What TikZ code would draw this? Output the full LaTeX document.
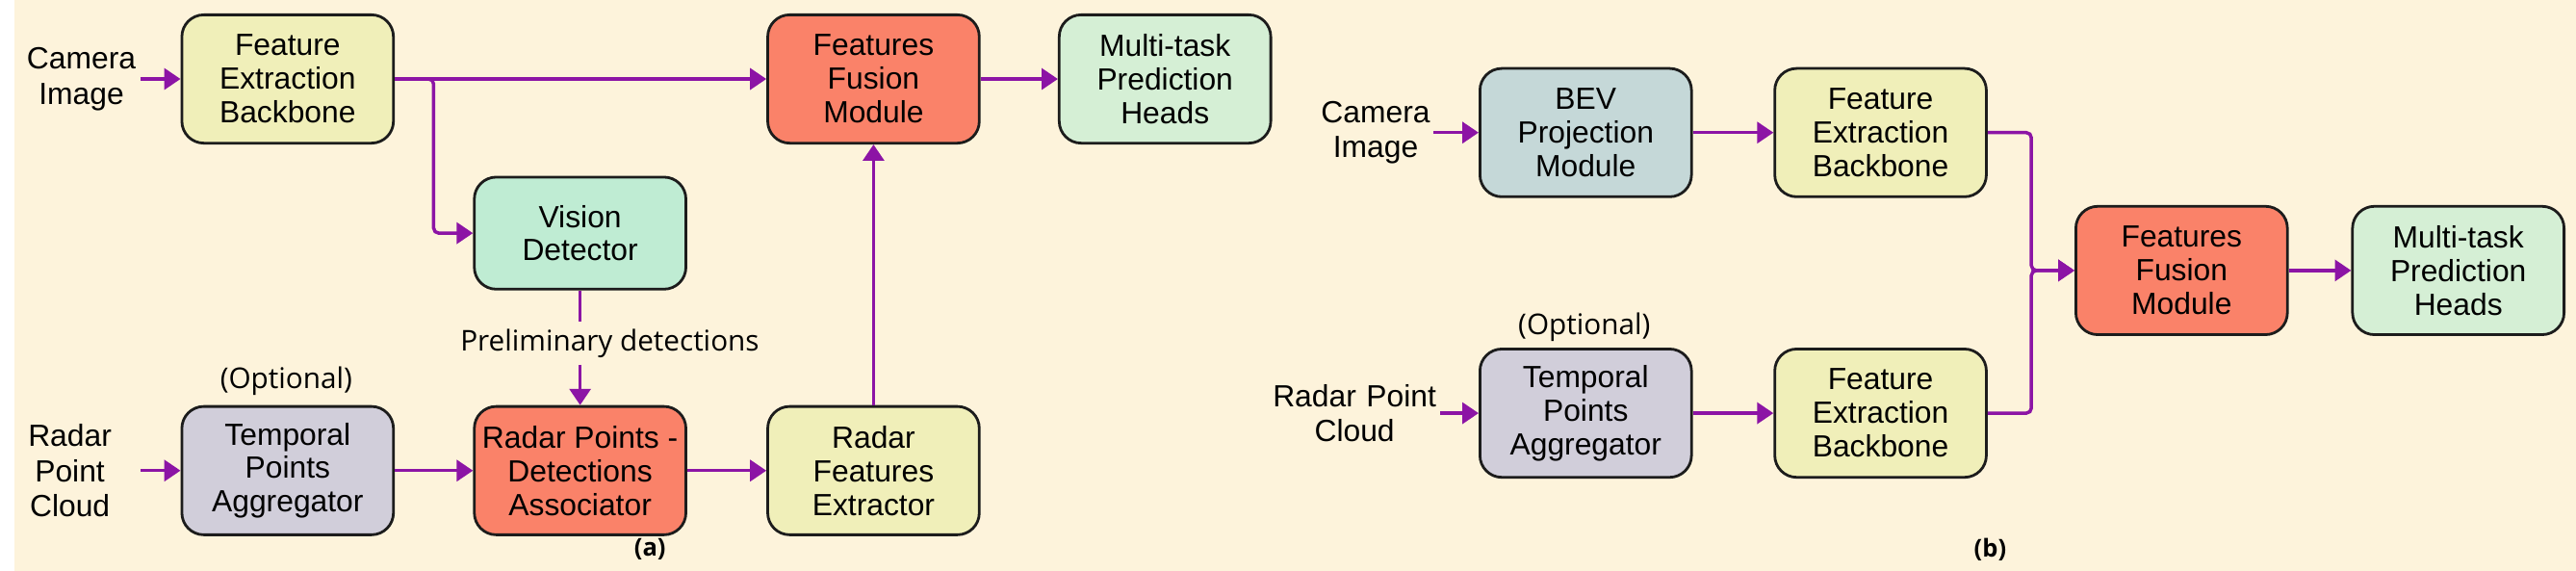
\documentclass[tikz,border=0pt]{standalone}
\usepackage{fontspec}
\setmainfont{Liberation Sans}
\newfontfamily\notefont{Open Sans}
\usepackage{tikz}
\usetikzlibrary{arrows.meta}
\usetikzlibrary{positioning}
\definecolor{fond}{HTML}{FDF3DB}
\definecolor{backbone}{HTML}{F0EFB9}
\definecolor{fusion}{HTML}{FA8269}
\definecolor{detector}{HTML}{BFECD3}
\definecolor{heads}{HTML}{D5EFD5}
\definecolor{temporal}{HTML}{D1CEDA}
\definecolor{bevproj}{HTML}{C5D8D8}
\definecolor{fleche}{HTML}{8C14A5}
\definecolor{bord}{HTML}{1C1C1C}
\tikzstyle{block}=[
        rectangle,
        draw=bord,
        line width=0.8pt,
        rounded corners=6.5pt,
        minimum width=2.21cm,
        minimum height=1.34cm,
        inner sep=0pt,
        align=center,
        font=\fontsize{9.1}{10}\selectfont
]
\tikzstyle{inlabel}=[align=center,inner sep=0pt,font=\fontsize{9.1}{10.4}\selectfont]
\tikzstyle{note}=[inner sep=0pt,font=\notefont\fontsize{8.5}{10}\selectfont]
\tikzstyle{tag}=[inner sep=0pt,font=\notefont\bfseries\fontsize{7.3}{9}\selectfont]
\tikzstyle{link}=[draw=fleche,line width=1pt]
\tikzstyle{flow}=[-{Triangle[length=1.7mm,width=2.2mm]},draw=fleche,line width=1pt,rounded corners=1.5pt]

\begin{document}
\begin{tikzpicture}
\fill[fond] (0,0) rectangle (26.76,-5.96);
%(a)
\node[inlabel,text width=1.22cm] (cam) at (0.70,-0.825) {Camera\\Image};
\node[block,fill=backbone] (feb) at (2.855,-0.825) {Feature\\Extraction\\Backbone};
\node[block,fill=fusion] (fus) at (8.975,-0.825) {Features\\Fusion\\Module};
\node[block,fill=heads] (mth) at (12.02,-0.825) {Multi-task\\Prediction\\Heads};
\node[block,fill=detector,minimum height=1.17cm] (vd) at (5.91,-2.435) {Vision\\Detector};
\node[note] (prelim) [minimum height=0.43cm] at (6.22,-3.585) {Preliminary detections};
\node[inlabel,text width=1.46cm] (rpc) at (0.58,-4.915) {Radar\\Point\\Cloud};
\node[block,fill=temporal] (tpa) at (2.855,-4.915) {Temporal\\Points\\Aggregator};
\node[note] (opt) at (2.84,-3.98) {(Optional)};
\node[block,fill=fusion] (rpda) at (5.91,-4.915) {Radar Points -\\Detections\\Associator};
\node[block,fill=backbone] (rfe) at (8.975,-4.915) {Radar\\Features\\Extractor};
\node[tag] (taga) at (6.64,-5.74) {(a)};
\coordinate (split) at (4.38,-0.825);
%(b)
\node[inlabel,text width=1.2cm] (cam2) at (14.22,-1.385) {Camera\\Image};
\node[block,fill=bevproj] (bev) at (16.415,-1.385) {BEV\\Projection\\Module};
\node[block,fill=backbone] (feb2) at (19.495,-1.385) {Feature\\Extraction\\Backbone};
\node[inlabel,text width=1.78cm] (rpc2) at (14.00,-4.315) {Radar Point\\Cloud};
\node[block,fill=temporal] (tpa2) at (16.415,-4.315) {Temporal\\Points\\Aggregator};
\node[note] (opt2) at (16.40,-3.42) {(Optional)};
\node[block,fill=backbone] (feb3) at (19.495,-4.315) {Feature\\Extraction\\Backbone};
\node[block,fill=fusion] (fus2) at (22.64,-2.825) {Features\\Fusion\\Module};
\node[block,fill=heads] (mth2) at (25.53,-2.825) {Multi-task\\Prediction\\Heads};
\node[tag] (tagb) at (20.64,-5.74) {(b)};
\coordinate (merge) at (21.07,-2.825);
%connections (a)
\draw[flow] (cam) -- (feb);
\draw[flow] (feb) -- (fus);
\draw[flow] (feb.east) -- (split) |- (vd);
\draw[flow] (fus) -- (mth);
\draw[link] (vd.south) -- (vd.south |- prelim.north);
\draw[flow] (vd.south |- prelim.south) -- (rpda.north);
\draw[flow] (rpc) -- (tpa);
\draw[flow] (tpa) -- (rpda);
\draw[flow] (rpda) -- (rfe);
\draw[flow] (rfe) -- (fus);
%connections (b)
\draw[flow] (cam2) -- (bev);
\draw[flow] (bev) -- (feb2);
\draw[flow] (rpc2) -- (tpa2);
\draw[flow] (tpa2) -- (feb3);
\draw[flow] (feb2.east) -| (merge) -- (fus2);
\draw[flow] (feb3.east) -| (merge) -- (fus2);
\draw[flow] (fus2) -- (mth2);
\end{tikzpicture}
\end{document}
